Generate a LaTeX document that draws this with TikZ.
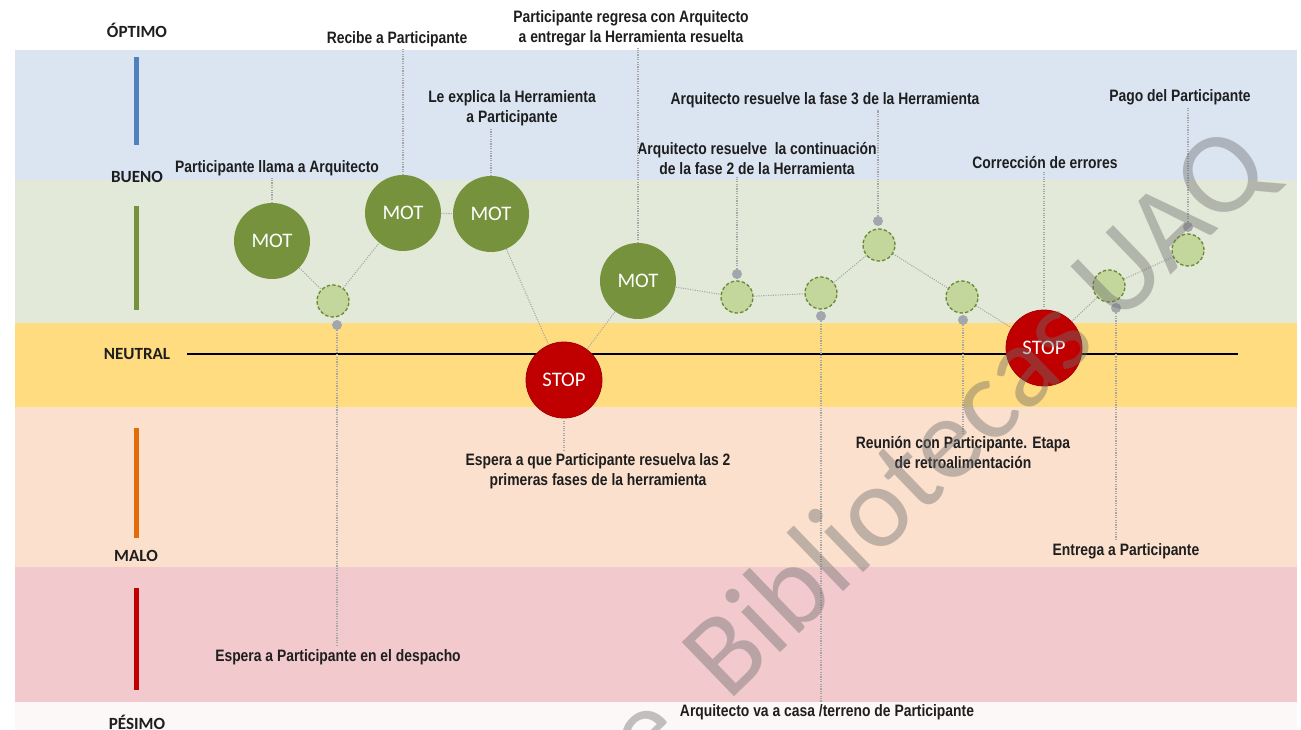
\documentclass[tikz,border=0pt]{standalone}
\usepackage{fontspec}
\setmainfont{Carlito}
\newfontfamily\lblfont[FakeStretch=0.84]{Liberation Sans}
\newfontfamily\wmfont{Carlito}
\definecolor{bandblue}{HTML}{DBE5F2}
\definecolor{bandgreen}{HTML}{E3E9D8}
\definecolor{bandyellow}{HTML}{FFDC80}
\definecolor{bandpeach}{HTML}{FBE0CE}
\definecolor{bandpink}{HTML}{F2CACD}
\definecolor{bandlow}{HTML}{FDF8F8}
\definecolor{motgreen}{HTML}{76923C}
\definecolor{smlgreen}{HTML}{C3D69B}
\definecolor{smledge}{HTML}{6A8A36}
\definecolor{stopred}{HTML}{C00000}
\definecolor{stopedge}{HTML}{A00000}
\definecolor{dotgray}{HTML}{A2A6AD}
\definecolor{linegray}{HTML}{A6A6A6}
\definecolor{barblue}{HTML}{4F81BD}
\definecolor{barorange}{HTML}{E36C09}
\definecolor{txt}{HTML}{1E1E1E}
\begin{document}
\begin{tikzpicture}[x=0.75pt,y=-0.75pt,
  mot/.style={circle,fill=motgreen,minimum size=57pt,inner sep=0pt,text=white,font=\fontsize{15.5}{18}\selectfont},
  stopnode/.style={circle,fill=stopred,draw=stopedge,line width=0.6pt,minimum size=57pt,inner sep=0pt,text=white,font=\fontsize{15.5}{18}\selectfont},
  sml/.style={circle,fill=smlgreen,draw=smledge,line width=1pt,dash pattern=on 2.6pt off 1.6pt,minimum size=24pt,inner sep=0pt},
  gdot/.style={circle,fill=dotgray,minimum size=7.5pt,inner sep=0pt},
  lbl/.style={font=\lblfont\bfseries\fontsize{12.4}{15}\selectfont,align=center,inner sep=1.5pt,text=txt},
  lvl/.style={font=\bfseries\fontsize{12.8}{15}\selectfont,text=txt},
  vline/.style={draw=linegray,line width=0.8pt,dash pattern=on 0.8pt off 1pt},
  pline/.style={draw=linegray,line width=0.8pt,dash pattern=on 0.8pt off 1pt},
  bar/.style={line width=3.75pt},
  wm/.style={font=\wmfont\fontsize{88}{100}\selectfont,text=black!57,text opacity=0.42,inner sep=0pt}
]
\useasboundingbox (0,0) rectangle (1301,730);
\fill[white] (0,0) rectangle (1301,730);
% bands
\fill[bandblue]   (15,50)  rectangle (1297,180);
\fill[bandgreen]  (15,180) rectangle (1297,323);
\fill[bandyellow] (15,323) rectangle (1297,407);
\fill[bandpeach]  (15,407) rectangle (1297,567);
\fill[bandpink]   (15,567) rectangle (1297,702);
\fill[bandlow]    (15,702) rectangle (1297,730);
% level bars
\draw[bar,barblue]   (136,57)  -- (136,145);
\draw[bar,motgreen]  (136,206) -- (136,310);
\draw[bar,barorange] (136,428) -- (136,538);
\draw[bar,stopred]   (136,588) -- (136,690);
% level labels
\node[lvl] (optimo)  at (137,30)  {ÓPTIMO};
\node[lvl] (bueno)   at (137,177) {BUENO};
\node[lvl] (neutral) at (137,354) {NEUTRAL};
\node[lvl] (malo)    at (136,556) {MALO};
\node[lvl] (pesimo)  at (137,722) {PÉSIMO};
% neutral line
\coordinate (nl1) at (187,354);
\coordinate (nl2) at (1238,354);
\draw[black,line width=1.5pt] (nl1) -- (nl2);
% main nodes
\node[mot] (m1) at (272,241) {MOT};
\node[mot] (m2) at (403,213) {MOT};
\node[mot] (m3) at (491,214) {MOT};
\node[stopnode] (st1) at (564,380) {STOP};
\node[mot] (m4) at (638,281) {MOT};
\node[sml] (s1) at (333,301) {};
\node[sml] (s2) at (737,297) {};
\node[sml] (s3) at (821,293) {};
\node[sml] (s4) at (879,245) {};
\node[sml] (s5) at (962,297) {};
\node[stopnode] (st2) at (1044,348) {STOP};
\node[sml] (s6) at (1109,286) {};
\node[sml] (s7) at (1188,250) {};
% labels
\node[lbl] (l1) at (277,168) {Participante llama a Arquitecto};
\node[lbl] (l2) at (397,39)  {Recibe a Participante};
\node[lbl] (l3) at (512,108) {Le explica la Herramienta\\a Participante};
\node[lbl] (l4) at (631,28)  {Participante regresa con Arquitecto\\a entregar la Herramienta resuelta};
\node[lbl] (l5) at (598,471) {Espera a que Participante resuelva las 2\\primeras fases de la herramienta};
\node[lbl] (l6) at (1045,163) {Corrección de errores};
\node[lbl] (ls1) at (338,657) {Espera a Participante en el despacho};
\node[lbl] (ls2) at (757,159) {Arquitecto resuelve\ \ la continuación\\de la fase 2 de la Herramienta};
\node[lbl] (ls3) at (827,712) {Arquitecto va a casa /terreno de Participante};
\node[lbl] (ls4) at (825,100) {Arquitecto resuelve la fase 3 de la Herramienta};
\node[lbl] (ls5) at (963,453) {Reunión con Participante. Etapa\\de retroalimentación};
\node[lbl] (ls6) at (1126,551) {Entrega a Participante};
\node[lbl] (ls7) at (1180,97) {Pago del Participante};
% gray dots
\node[gdot] (d1) at (337,325) {};
\node[gdot] (d2) at (737,274) {};
\node[gdot] (d3) at (821,316) {};
\node[gdot] (d4) at (878,221) {};
\node[gdot] (d5) at (963,320) {};
\node[gdot] (d6) at (1116,308) {};
\node[gdot] (d7) at (1188,227) {};
% process connectors
\path[pline] (m1) -- (s1) -- (m2) -- (m3) -- (st1) -- (m4) -- (s2) -- (s3) -- (s4) -- (s5) -- (st2) -- (s6) -- (s7);
% leader lines
\draw[vline] (m1.north) -- (m1.north |- l1.south);
\draw[vline] (m2.north) -- (m2.north |- l2.south);
\draw[vline] (m3.north) -- (m3.north |- l3.south);
\draw[vline] (m4.north) -- (m4.north |- l4.south);
\draw[vline] (st1.south) -- (st1.south |- l5.north);
\draw[vline] (st2.north) -- (st2.north |- l6.south);
\draw[vline] (d1.south) -- (d1.south |- ls1.north);
\draw[vline] (d2.north) -- (d2.north |- ls2.south);
\draw[vline] (d3.south) -- (d3.south |- ls3.north);
\draw[vline] (d4.north) -- (d4.north |- ls4.south);
\draw[vline] (d5.south) -- (d5.south |- ls5.north);
\draw[vline] (d6.south) -- (d6.south |- ls6.north);
\draw[vline] (d7.north) -- (d7.north |- ls7.south);
% watermark
\begin{scope}
\clip (0,0) rectangle (1301,730);
\node[wm,rotate=44,anchor=base west] (wmark) at (728,703) {\llap{e\ \ }Bibliotecas UAQ};
\end{scope}
\end{tikzpicture}
\end{document}
